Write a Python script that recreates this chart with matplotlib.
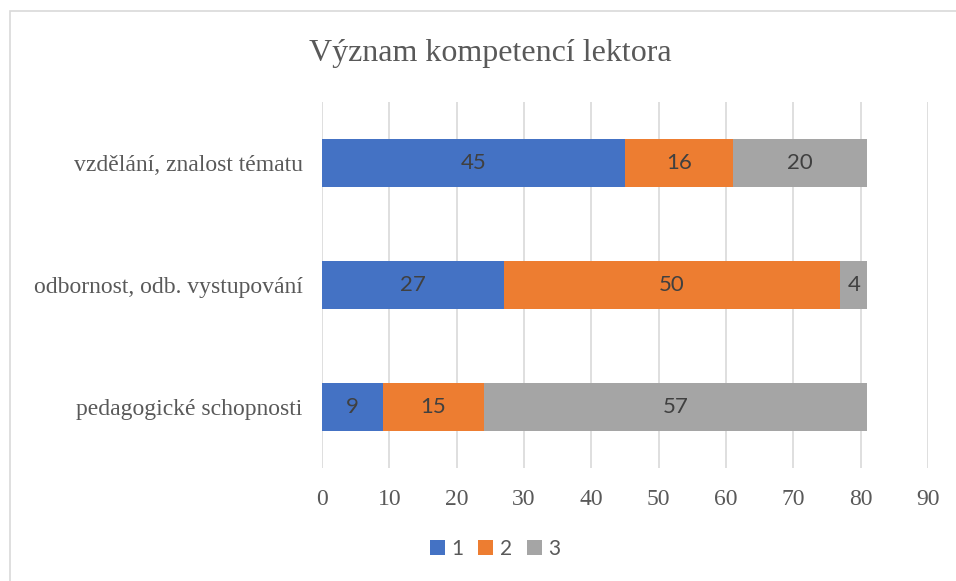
import matplotlib.pyplot as plt
from matplotlib.patches import Rectangle

# --- data ------------------------------------------------------------------
categories = ["vzdělání, znalost tématu", "odbornost, odb. vystupování",
              "pedagogické schopnosti"]
series_names = ["1", "2", "3"]
values_1 = [45, 27, 9]
values_2 = [16, 50, 15]
values_3 = [20, 4, 57]
x_ticks = [0, 10, 20, 30, 40, 50, 60, 70, 80, 90]

COLORS = ["#4472C4", "#ED7D31", "#A5A5A5"]
INK = "#595959"
LABEL_INK = "#404040"
SERIF = "Liberation Serif"
SANS = "Lato"

fig = plt.figure(figsize=(9.56, 5.81), dpi=100)
fig.patches.append(Rectangle((10 / 956, -0.01), 0.999, 1 - 11 / 581 + 0.01,
                             transform=fig.transFigure, fill=False,
                             edgecolor="#D9D9D9", linewidth=1.2))
ax = fig.add_axes([322 / 956, (581 - 468) / 581, 606 / 956, 366 / 581])

ypos = list(range(len(categories)))
left = [0] * len(categories)
for name, vals, col in zip(series_names, [values_1, values_2, values_3], COLORS):
    bars = ax.barh(ypos, vals, left=left, height=0.4, color=col, label=name)
    for bar, v in zip(bars, vals):
        ax.text(bar.get_x() + bar.get_width() / 2,
                bar.get_y() + bar.get_height() / 2, str(v),
                ha="center", va="center", fontsize=16, color=LABEL_INK,
                family=SANS)
    left = [a + b for a, b in zip(left, vals)]

ax.set_ylim(2.5, -0.5)
ax.set_xlim(0, 90)
ax.set_xticks(x_ticks)
ax.set_yticks(ypos)
ax.set_yticklabels(categories, family=SERIF, fontsize=17, color=INK)
ax.set_xticklabels([str(t) for t in x_ticks], family=SERIF, fontsize=17,
                   color=INK)
ax.tick_params(length=0)
ax.tick_params(axis="y", pad=14)
ax.tick_params(axis="x", pad=15)
ax.grid(axis="x", color="#D9D9D9", linewidth=1.2)
ax.set_axisbelow(True)
for s in ax.spines.values():
    s.set_visible(False)

fig.text(490 / 956, 1 - 54 / 581, "Význam kompetencí lektora", ha="center",
         va="center", family=SERIF, fontsize=23, color=INK)

leg = ax.legend(loc="center", bbox_to_anchor=(495 / 956, 1 - 549 / 581),
                bbox_transform=fig.transFigure, ncol=3, frameon=False,
                handlelength=0.72, handleheight=0.72, handletextpad=0.3,
                columnspacing=0.72, borderpad=0,
                prop={"family": SANS, "size": 15})
for t in leg.get_texts():
    t.set_color(INK)

fig.savefig("out.png", dpi=100)
